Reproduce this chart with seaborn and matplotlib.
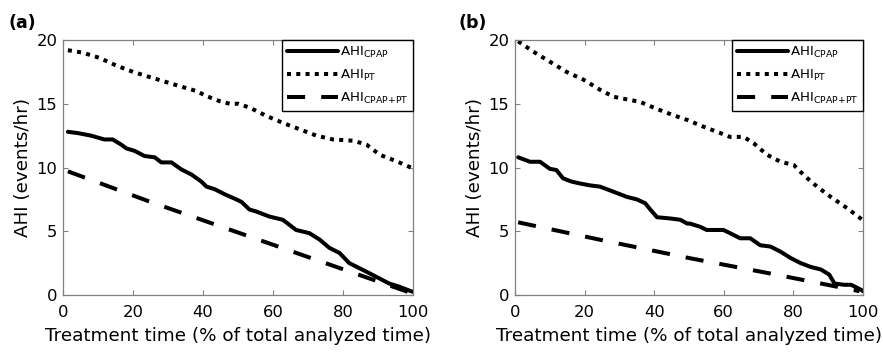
import numpy as np
import pandas as pd
import matplotlib
matplotlib.use("Agg")
import matplotlib.pyplot as plt
import seaborn as sns

# ---------------- data ----------------
# Panel (a)
a_cpap_x = [1.4, 4.2, 8, 11.8, 14.2, 16.6, 18.1, 20.5, 23.3, 26.2, 28.1, 31, 33.8, 36.7, 39.5, 41,
            43.3, 46.2, 49.5, 51, 53.3, 55.2, 59, 62.8, 66.6, 70.4, 73.3, 76.1, 79, 81.8, 84.7,
            87.6, 90.4, 93.2, 96.1, 99.4, 100]
a_cpap_y = [12.8, 12.7, 12.5, 12.2, 12.2, 11.8, 11.5, 11.3, 10.9, 10.8, 10.4, 10.4, 9.85, 9.45, 8.9, 8.5,
            8.3, 7.9, 7.5, 7.3, 6.7, 6.55, 6.15, 5.9, 5.1, 4.85, 4.35, 3.7, 3.3, 2.5, 2.1,
            1.7, 1.3, 0.9, 0.65, 0.3, 0.25]
a_pt_x = [1.4, 5.7, 10.4, 15.2, 20, 24.7, 29.5, 34.3, 38.1, 41, 44.8, 47.6, 50, 53.3, 58.1, 62.8,
          67.6, 72.4, 77.1, 82.9, 86.7, 90.5, 95.2, 99.4]
a_pt_y = [19.2, 19.0, 18.6, 18.0, 17.5, 17.1, 16.7, 16.3, 16.0, 15.6, 15.2, 15.0, 15.0, 14.7, 14.05, 13.5,
          13.0, 12.5, 12.2, 12.1, 11.8, 11.0, 10.5, 10.0]
a_both_x = [1.4, 25, 50, 75, 99]
a_both_y = [9.7, 7.3, 4.9, 2.5, 0.2]

# Panel (b)
b_cpap_x = [0.9, 4.3, 7.2, 10, 11.9, 13.8, 16.2, 18.6, 21.5, 24.4, 28.3, 32.1, 35, 37.4, 38.9, 40.8,
            44.7, 47.5, 49.5, 50.3, 53.2, 55.1, 59.9, 61.8, 64.7, 67.6, 70.5, 73.4, 76.3, 79.2,
            82.1, 85, 87.9, 90.3, 91.8, 94.6, 96.6, 99.5, 100]
b_cpap_y = [10.8, 10.45, 10.45, 9.9, 9.8, 9.15, 8.9, 8.75, 8.6, 8.5, 8.1, 7.7, 7.5, 7.2, 6.7, 6.1,
            6.0, 5.9, 5.6, 5.6, 5.35, 5.1, 5.1, 4.85, 4.45, 4.45, 3.9, 3.8, 3.4, 2.9,
            2.5, 2.2, 2.0, 1.6, 0.9, 0.8, 0.8, 0.4, 0.3]
b_pt_x = [0.9, 5.2, 10, 14.8, 19.6, 24.4, 28.3, 33, 35.9, 40.7, 45.5, 49.8, 53.2, 59, 61.8, 65.7,
          68.6, 72.4, 76.3, 80.1, 83, 86.8, 90.7, 95.5, 99.8]
b_pt_y = [19.9, 19.1, 18.3, 17.5, 16.9, 16.1, 15.55, 15.3, 15.15, 14.6, 14.1, 13.7, 13.3, 12.7, 12.4, 12.4,
          11.9, 11.0, 10.45, 10.2, 9.4, 8.5, 7.7, 6.8, 5.9]
b_both_x = [0.9, 25, 50, 75, 99]
b_both_y = [5.7, 4.3, 2.9, 1.6, 0.3]

series_names = ["CPAP", "PT", "CPAP+PT"]
legend_labels = [r"AHI$_{\mathregular{CPAP}}$", r"AHI$_{\mathregular{PT}}$", r"AHI$_{\mathregular{CPAP{+}PT}}$"]
panel_titles = ["(a)", "(b)"]
x_ticks = [0, 20, 40, 60, 80, 100]
y_ticks = [0, 5, 10, 15, 20]
x_label = "Treatment time (% of total analyzed time)"
y_label = "AHI (events/hr)"

# ---------------- style ----------------
sns.set_theme(style="white")
plt.rcParams["font.family"] = ["DejaVu Sans"]
plt.rcParams["mathtext.fontset"] = "dejavusans"
plt.rcParams["text.color"] = "black"


def long_frame(cx, cy, px, py, bx, by):
    frames = []
    for name, xs, ys in zip(series_names, [cx, px, bx], [cy, py, by]):
        frames.append(pd.DataFrame({"x": xs, "y": ys, "series": name}))
    return pd.concat(frames, ignore_index=True)


panels = [
    long_frame(a_cpap_x, a_cpap_y, a_pt_x, a_pt_y, a_both_x, a_both_y),
    long_frame(b_cpap_x, b_cpap_y, b_pt_x, b_pt_y, b_both_x, b_both_y),
]

dash_map = {"CPAP": "", "PT": (1.0, 1.3), "CPAP+PT": (4.5, 4.0)}
LW = 2.9
spine_col = "#808080"
FS_TICK = 11.8
FS_LAB = 13.2

fig = plt.figure(figsize=(8.83, 3.56), dpi=100)
axes_pos = [
    [63 / 883, 1 - 295 / 356, 350 / 883, 255 / 356],
    [515 / 883, 1 - 295 / 356, 348 / 883, 255 / 356],
]
label_pos = [(9 / 883, 1 - 23 / 356), (459 / 883, 1 - 23 / 356)]

for i, df in enumerate(panels):
    ax = fig.add_axes(axes_pos[i])
    sns.lineplot(data=df, x="x", y="y", style="series", style_order=series_names,
                 dashes=dash_map, color="black", linewidth=LW, legend=False, ax=ax,
                 sort=True, estimator=None)
    ax.set_xlim(0, 100)
    ax.set_ylim(0, 20)
    ax.set_xticks(x_ticks)
    ax.set_yticks(y_ticks)
    ax.tick_params(axis="x", pad=7)
    ax.tick_params(axis="y", pad=4)
    ax.tick_params(direction="in", length=3.5, width=0.8, color=spine_col,
                   top=True, right=True, bottom=True, left=True,
                   labelsize=FS_TICK, labelcolor="black")
    for s in ax.spines.values():
        s.set_visible(True)
        s.set_color(spine_col)
        s.set_linewidth(0.9)
    ax.set_xlabel(x_label, fontsize=FS_LAB, labelpad=5, color="black")
    ax.set_ylabel(y_label, fontsize=FS_LAB, labelpad=3, color="black")
    ax.grid(False)
    handles = ax.get_lines()[:3]
    leg = ax.legend(handles, legend_labels, loc="upper right", borderaxespad=0,
                    fontsize=9.6, handlelength=3.8, handletextpad=0.15,
                    labelspacing=0.6, borderpad=0.35, frameon=True, fancybox=False,
                    framealpha=1, edgecolor="black")
    leg.get_frame().set_linewidth(1.0)
    for t in leg.get_texts():
        t.set_color("black")
    fig.text(label_pos[i][0], label_pos[i][1], panel_titles[i], fontsize=12.5,
             fontweight="bold", va="center", ha="left", color="black")

fig.savefig("out.png", dpi=100)
